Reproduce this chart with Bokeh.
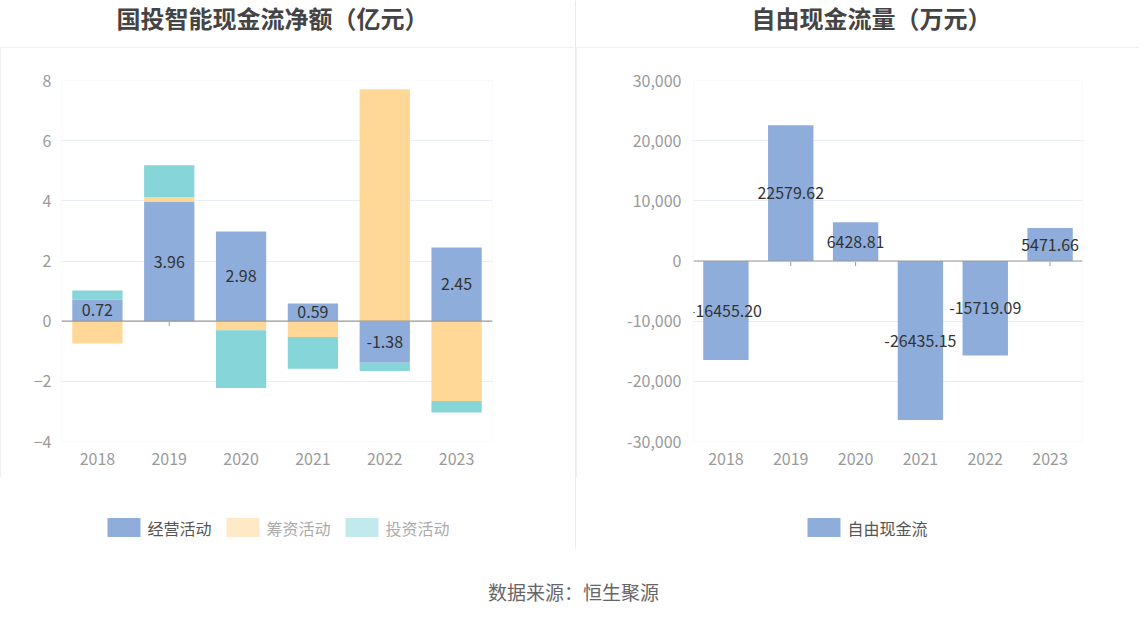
from bokeh.plotting import figure
from bokeh.models import (Span, NumeralTickFormatter, FixedTicker, Range1d,
                          ColumnDataSource, Label, LabelSet)
from bokeh.layouts import row, column
from bokeh.embed import file_html
from bokeh.resources import INLINE
from bokeh.core.properties import value

# ---------------- data ----------------
years = ["2018", "2019", "2020", "2021", "2022", "2023"]
operating = [0.72, 3.96, 2.98, 0.59, -1.38, 2.45]     # 经营活动
financing = [-0.74, 0.17, -0.30, -0.53, 7.71, -2.65]  # 筹资活动
investing = [0.30, 1.05, -1.92, -1.05, -0.28, -0.39]  # 投资活动
fcf = [-16455.20, 22579.62, 6428.81, -26435.15, -15719.09, 5471.66]  # 自由现金流

left_ticks = [-4, -2, 0, 2, 4, 6, 8]
right_ticks = [-30000, -20000, -10000, 0, 10000, 20000, 30000]
left_series = ["经营活动", "筹资活动", "投资活动"]
right_series = ["自由现金流"]
titles = ["国投智能现金流净额（亿元）", "自由现金流量（万元）"]
source_text = "数据来源：恒生聚源"

FONT = "Noto Sans CJK SC"
C_OP = "#8EADDB"
C_FIN = "#FFD797"
C_INV = "#86D6D9"
C_FIN_LEG = "#FFE9C6"
C_INV_LEG = "#C2EAEC"
GRID = "#E9EDF6"
AXIS = "#9A9A9A"
TICKLBL = "#9A9A9A"
DIV = "#EBEBEB"
FRAME_H = 361  # plot-area height in px
W1, W2 = 575, 563
W = W1 + 1 + W2


def style(p, ticks, lo, hi):
    p.outline_line_color = None
    p.background_fill_color = "white"
    p.border_fill_color = "white"
    p.xgrid.grid_line_color = None
    p.ygrid.grid_line_color = GRID
    p.yaxis.ticker = FixedTicker(ticks=ticks)
    p.yaxis.axis_line_color = None
    p.yaxis.major_tick_line_color = None
    p.yaxis.minor_tick_line_color = None
    p.yaxis.major_tick_out = 0
    p.yaxis.major_tick_in = 0
    p.yaxis.minor_tick_out = 0
    p.yaxis.major_label_text_color = TICKLBL
    p.yaxis.major_label_text_font = FONT
    p.yaxis.major_label_text_font_size = "16px"
    p.xaxis.axis_line_color = None
    p.xaxis.major_tick_line_color = None
    p.xaxis.major_tick_out = 0
    p.xaxis.major_tick_in = 0
    p.xaxis.major_label_text_color = TICKLBL
    p.xaxis.major_label_text_font = FONT
    p.xaxis.major_label_text_font_size = "16px"
    p.xaxis.major_label_standoff = 11
    # small category ticks hanging below the zero line (behind the bars)
    tick_len = 5 * (hi - lo) / FRAME_H
    p.segment(x0=years, y0=[0] * len(years), x1=years, y1=[-tick_len] * len(years),
              line_color=AXIS, line_width=1, level="underlay")
    p.add_layout(Span(location=0, dimension="width", line_color=AXIS, line_width=1.2,
                      level="overlay"))


def strip(height):
    s = figure(width=W, height=height, output_backend="svg", toolbar_location=None,
               x_axis_type=None, y_axis_type=None, x_range=Range1d(0, W),
               y_range=Range1d(0, height), min_border=0)
    s.outline_line_color = None
    s.background_fill_color = "white"
    s.border_fill_color = "white"
    return s


# ---------------- titles strip ----------------
top = strip(47)
top.segment(x0=[W1], y0=[0], x1=[W1], y1=[47], line_color=DIV, line_width=1)
for tx, cx in zip(titles, (272, 871)):
    top.add_layout(Label(x=cx, y=30, text=tx, text_align="center", text_baseline="middle",
                         text_font=FONT, text_font_size="24px", text_font_style="bold",
                         text_color="#444444"))

# ---------------- left chart ----------------
pos = [0.0] * len(years)
neg = [0.0] * len(years)
stacks = []
for vals in (operating, financing, investing):
    bottoms, tops = [], []
    for i, v in enumerate(vals):
        if v >= 0:
            b, t = pos[i], pos[i] + v
            pos[i] = t
        else:
            b, t = neg[i], neg[i] + v
            neg[i] = t
        bottoms.append(b)
        tops.append(t)
    stacks.append((bottoms, tops))

p1 = figure(x_range=years, y_range=Range1d(-4, 8), width=W1, height=430,
            output_backend="svg", toolbar_location=None,
            min_border_left=61, min_border_right=83, min_border_top=33, min_border_bottom=36)
style(p1, left_ticks, -4, 8)
p1.yaxis.major_label_standoff = 10

for (b, t), col in zip(stacks, (C_OP, C_FIN, C_INV)):
    src = ColumnDataSource(dict(x=years, bottom=b, top=t))
    p1.vbar(x="x", bottom="bottom", top="top", width=0.7, source=src,
            fill_color=col, line_color=None)

op_b, op_t = stacks[0]
lbl_src = ColumnDataSource(dict(x=years, y=[(b + t) / 2 for b, t in zip(op_b, op_t)],
                                text=["%.2f" % v for v in operating]))
p1.add_layout(LabelSet(x="x", y="y", text="text", source=lbl_src, text_align="center",
                       text_baseline="middle", text_font=value(FONT),
                       text_font_size=value("16px"), text_color=value("#333333")))

# ---------------- right chart ----------------
p2 = figure(x_range=years, y_range=Range1d(-30000, 30000), width=W2, height=430,
            output_backend="svg", toolbar_location=None,
            min_border_left=117, min_border_right=57, min_border_top=33, min_border_bottom=36)
style(p2, right_ticks, -30000, 30000)
p2.yaxis.formatter = NumeralTickFormatter(format="0,0")
p2.yaxis.major_label_standoff = 12

src2 = ColumnDataSource(dict(x=years, top=fcf, y=[v / 2 for v in fcf],
                             text=["%.2f" % v for v in fcf]))
p2.vbar(x="x", bottom=0, top="top", width=0.7, source=src2,
        fill_color=C_OP, line_color=None)
p2.add_layout(LabelSet(x="x", y="y", text="text", source=src2, text_align="center",
                       text_baseline="middle", text_font=value(FONT),
                       text_font_size=value("16px"), text_color=value("#333333")))

# ---------------- legends + source strip ----------------
bot = strip(133)
bot.segment(x0=[W1], y0=[62], x1=[W1], y1=[133], line_color=DIV, line_width=1)
leg_x = [123.5, 242.5, 361.5, 823.5]
leg_colors = [C_OP, C_FIN_LEG, C_INV_LEG, C_OP]
leg_text_colors = ["#555555", "#AAAAAA", "#AAAAAA", "#555555"]
leg_labels = left_series + right_series
bot.rect(x=leg_x, y=[83] * 4, width=33, height=19, fill_color=leg_colors, line_color=None)
bot.text(x=[x + 23.5 for x in leg_x], y=[83] * 4, text=leg_labels, text_align="left",
         text_baseline="middle", text_font=value(FONT), text_font_size="16px",
         text_color=leg_text_colors)
bot.add_layout(Label(x=573, y=19, text=source_text, text_align="center",
                     text_baseline="middle", text_font=FONT, text_font_size="19px",
                     text_color="#666666"))

mid = row(p1, p2, spacing=1, styles={"background-color": DIV})
layout = column(top, mid, bot, spacing=0)

open("out.html", "w").write(file_html(layout, INLINE))
